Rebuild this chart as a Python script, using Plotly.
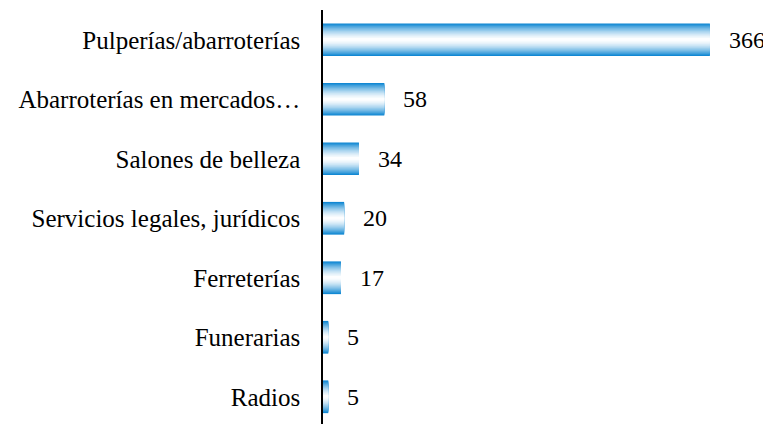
import plotly.graph_objects as go

categories = [
    "Pulperías/abarroterías",
    "Abarroterías en mercados…",
    "Salones de belleza",
    "Servicios legales, jurídicos",
    "Ferreterías",
    "Funerarias",
    "Radios",
]
values = [366, 58, 34, 20, 17, 5, 5]

FONT = "Liberation Serif, Times New Roman, serif"
edge = (14, 134, 210)     # blue at bar edges
white = (255, 255, 255)
bar_width = 0.55
n_layers = 18

fig = go.Figure()
for k in range(n_layers):
    t = 1 - k / n_layers            # 1 at outer edge -> 0 at centre
    mix = t ** 1.6
    col = tuple(round(white[i] + (edge[i] - white[i]) * mix) for i in range(3))
    fig.add_trace(go.Bar(
        x=values, y=categories, orientation="h",
        width=bar_width * t,
        marker=dict(color="rgb(%d,%d,%d)" % col, line=dict(width=0)),
        hoverinfo="skip" if k else "x+y",
        showlegend=False,
    ))

for c, v in zip(categories, values):
    fig.add_annotation(
        x=v, y=c, text=str(v), showarrow=False,
        xanchor="left", xshift=17,
        font=dict(family=FONT, size=24, color="black"),
    )

# the page body adds an 8px offset, so margins are reduced by 8px
fig.update_layout(
    width=771, height=424,
    margin=dict(l=315, r=0, t=2, b=0, autoexpand=False),
    barmode="overlay",
    plot_bgcolor="white", paper_bgcolor="white",
    xaxis=dict(range=[0, 431.4], visible=False, fixedrange=True),
    yaxis=dict(
        range=[6.592, -0.5], showline=True, linecolor="black", linewidth=1.5,
        showgrid=False, zeroline=False, ticks="", ticklabelstandoff=16,
        tickfont=dict(family=FONT, size=25, color="black"),
        automargin=False,
    ),
)

fig.write_html("out.html")
